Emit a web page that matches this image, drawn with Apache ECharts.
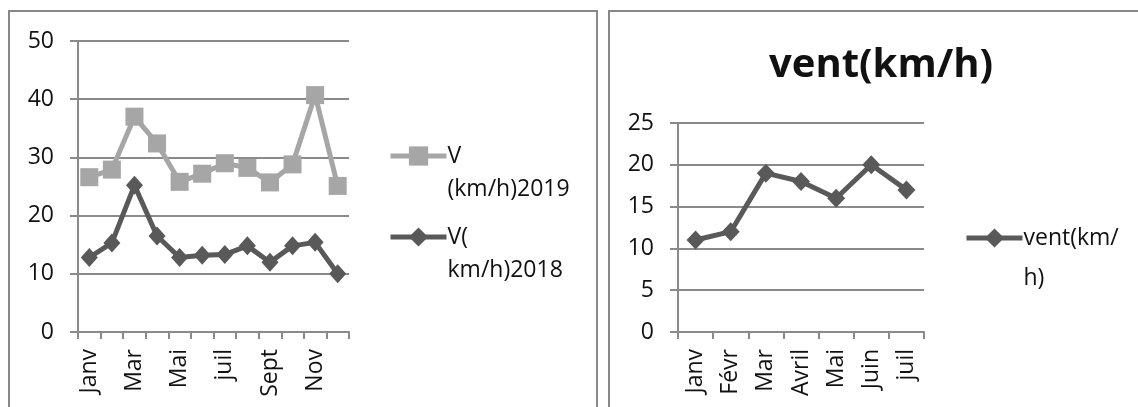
<!DOCTYPE html>
<html>
<head>
<meta charset="utf-8">
<script src="https://cdn.jsdelivr.net/npm/echarts@6/dist/echarts.min.js"></script>
<style>
  html, body { margin: 0; padding: 0; background: #ffffff; }
  #chart { width: 1138px; height: 407px; }
</style>
</head>
<body>
<div id="chart"></div>
<script>
// Monthly wind speed, 2019 vs 2018 (left panel)
const monthsYear = ['Janv', 'Févr', 'Mar', 'Avril', 'Mai', 'Juin', 'juil', 'Août', 'Sept', 'Oct', 'Nov', 'Déc'];
const wind2019 = [26.6, 27.9, 37.0, 32.4, 25.8, 27.2, 29.0, 28.2, 25.7, 28.8, 40.7, 25.1];
const wind2018 = [12.8, 15.3, 25.2, 16.5, 12.8, 13.2, 13.3, 14.8, 12.0, 14.8, 15.4, 10.0];
const name2019 = 'V (km/h)2019';
const name2018 = 'V( km/h)2018';

// Wind speed, January to July (right panel)
const monthsHalf = ['Janv', 'Févr', 'Mar', 'Avril', 'Mai', 'Juin', 'juil'];
const windVent = [11, 12, 19, 18, 16, 20, 17];
const nameVent = 'vent(km/h)';

// Tick settings for the two value axes
const leftTicks = { min: 0, max: 50, interval: 10 };
const rightTicks = { min: 0, max: 25, interval: 5 };

// Legend labels wrap the same way as the panel layout does
const legendLines = {};
legendLines[name2019] = ['V', '(km/h)2019'];
legendLines[name2018] = ['V(', 'km/h)2018'];
legendLines[nameVent] = ['vent(km/', 'h)'];

const FONT = '"Open Sans", Lato, "Noto Sans", sans-serif';
const GRID_GREY = '#8a8a8a';
const LIGHT = '#a6a6a6';
const DARK = '#595959';
const TEXT = '#111111';
const FS = 23;

function valueAxis(gridIndex, ticks) {
  return {
    type: 'value', gridIndex: gridIndex,
    min: ticks.min, max: ticks.max, interval: ticks.interval,
    axisLine: { show: true, lineStyle: { color: GRID_GREY, width: 2 } },
    axisTick: { show: true, length: 8, lineStyle: { color: GRID_GREY, width: 2 } },
    splitLine: { show: true, lineStyle: { color: GRID_GREY, width: 2 } },
    axisLabel: { color: TEXT, fontFamily: FONT, fontSize: FS, margin: 24 }
  };
}

function categoryAxis(gridIndex, cats, labelInterval) {
  return {
    type: 'category', gridIndex: gridIndex, data: cats, boundaryGap: true,
    axisLine: { show: true, lineStyle: { color: GRID_GREY, width: 2 } },
    axisTick: { show: true, length: 7, interval: 0, alignWithLabel: false, lineStyle: { color: GRID_GREY, width: 2 } },
    axisLabel: { color: TEXT, fontFamily: FONT, fontSize: FS, rotate: 90, margin: 17, interval: labelInterval }
  };
}

function lineSeries(name, data, xi, yi, color, symbol, size) {
  return {
    type: 'line', name: name, data: data,
    xAxisIndex: xi, yAxisIndex: yi,
    symbol: symbol, symbolSize: size, showSymbol: true, showAllSymbol: true,
    lineStyle: { color: color, width: 5 },
    itemStyle: { color: color },
    emphasis: { disabled: true },
    animation: false
  };
}

function legendFor(name, left, iconY, lineH) {
  const lines = legendLines[name];
  const blockH = lineH * (lines.length + 1);
  return {
    data: [name], orient: 'vertical',
    left: left, top: iconY - blockH / 2,
    padding: 0, itemWidth: 56, itemHeight: 24, itemGap: 0,
    selectedMode: false,
    lineStyle: { width: 5 },
    formatter: function (n) { return '\n' + legendLines[n].join('\n'); },
    textStyle: { color: TEXT, fontFamily: FONT, fontSize: FS, lineHeight: lineH, padding: [0, 0, 0, -4] }
  };
}

const chart = echarts.init(document.getElementById('chart'), null, { renderer: 'canvas' });

chart.setOption({
  animation: false,
  backgroundColor: '#ffffff',
  title: {
    text: nameVent, left: 764, top: 35,
    textStyle: { color: TEXT, fontFamily: FONT, fontSize: 40, fontWeight: 'bold', lineHeight: 52 }
  },
  graphic: [
    { type: 'rect', shape: { x: 9, y: 11, width: 588, height: 430 }, style: { fill: 'none', stroke: '#888888', lineWidth: 2 }, silent: true },
    { type: 'rect', shape: { x: 609, y: 11, width: 560, height: 430 }, style: { fill: 'none', stroke: '#888888', lineWidth: 2 }, silent: true }
  ],
  legend: [
    legendFor(name2019, 388, 156, 33),
    legendFor(name2018, 388, 237, 33),
    legendFor(nameVent, 964, 238, 40)
  ],
  grid: [
    { left: 78, top: 41, width: 271, height: 291, containLabel: false },
    { left: 678, top: 123, width: 246, height: 209, containLabel: false }
  ],
  xAxis: [
    categoryAxis(0, monthsYear, 1),
    categoryAxis(1, monthsHalf, 0)
  ],
  yAxis: [
    valueAxis(0, leftTicks),
    valueAxis(1, rightTicks)
  ],
  series: [
    lineSeries(name2019, wind2019, 0, 0, LIGHT, 'rect', 18),
    lineSeries(name2018, wind2018, 0, 0, DARK, 'diamond', [17, 19]),
    lineSeries(nameVent, windVent, 1, 1, DARK, 'diamond', [18, 19])
  ]
});
</script>
</body>
</html>
